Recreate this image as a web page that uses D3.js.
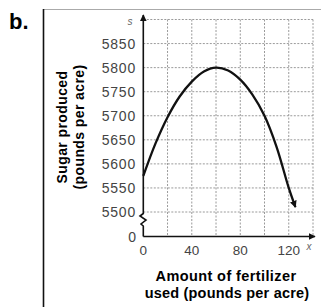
<!DOCTYPE html>
<html>
<head>
<meta charset="utf-8">
<script src="https://cdn.jsdelivr.net/npm/d3@7"></script>
<style>
  body { margin: 0; background: #fff; }
  svg { display: block; }
  text { font-family: "Liberation Sans", Arial, sans-serif; }
</style>
</head>
<body>
<div id="chart"></div>
<script>
// Data
var fertilizer = [0, 10, 20, 30, 40, 50, 60, 70, 80, 90, 100, 110, 120, 125.5];
var sugar = [5575, 5642, 5697, 5740, 5771, 5792, 5800, 5794, 5775, 5744, 5700, 5635, 5550, 5510];
var xTicks = [0, 40, 80, 120];
var yTicks = [5500, 5550, 5600, 5650, 5700, 5750, 5800, 5850];
var xGrid = [20, 40, 60, 80, 100, 120, 140];
var yGrid = [5500, 5550, 5600, 5650, 5700, 5750, 5800, 5850, 5900];

var width = 321, height = 307;
var x0 = 143.3, xAxisY = 236.5;

var x = d3.scaleLinear().domain([0, 140]).range([x0, 313]);
var y = d3.scaleLinear().domain([5500, 5900]).range([212, 19.5]);

var svg = d3.select("#chart")
  .append("svg")
  .attr("width", width)
  .attr("height", height);

// Frame
svg.append("line")
  .attr("x1", 43).attr("x2", 321).attr("y1", 9.5).attr("y2", 9.5)
  .attr("stroke", "#aaa").attr("stroke-width", 1);
svg.append("line")
  .attr("x1", 43.5).attr("x2", 43.5).attr("y1", 9).attr("y2", 307)
  .attr("stroke", "#111").attr("stroke-width", 1.6);

// Panel letter
svg.append("text")
  .attr("x", 9).attr("y", 29)
  .style("font-size", "22px").style("font-weight", "bold")
  .text("b.");

// Grid
var grid = svg.append("g")
  .attr("stroke", "#9a9a9a")
  .attr("stroke-width", 1)
  .attr("stroke-dasharray", "2,1.5");

grid.selectAll(".h").data(yGrid).enter().append("line")
  .attr("x1", x0).attr("x2", x(140))
  .attr("y1", function(d) { return y(d); })
  .attr("y2", function(d) { return y(d); });

grid.selectAll(".v").data(xGrid).enter().append("line")
  .attr("x1", function(d) { return x(d); })
  .attr("x2", function(d) { return x(d); })
  .attr("y1", y(5900)).attr("y2", xAxisY);

// Arrow marker
var defs = svg.append("defs");
defs.append("marker")
  .attr("id", "arr")
  .attr("viewBox", "0 0 10 10")
  .attr("refX", 9).attr("refY", 5)
  .attr("markerWidth", 7).attr("markerHeight", 7)
  .attr("markerUnits", "userSpaceOnUse")
  .attr("orient", "auto")
  .append("path")
  .attr("d", "M0,0 L10,5 L0,10 Z")
  .attr("fill", "#111");

// Axes (y axis with break)
svg.append("path")
  .attr("d", "M" + x0 + "," + xAxisY + " L" + x0 + ",226 L141,224 L146,220 L140,216 L" + x0 + ",213.5 L" + x0 + ",15")
  .attr("fill", "none").attr("stroke", "#111").attr("stroke-width", 1.6)
  .attr("marker-end", "url(#arr)");

svg.append("line")
  .attr("x1", x0).attr("x2", 315)
  .attr("y1", xAxisY).attr("y2", xAxisY)
  .attr("stroke", "#111").attr("stroke-width", 1.6)
  .attr("marker-end", "url(#arr)");

// Tick labels
svg.selectAll(".yt").data(yTicks).enter().append("text")
  .attr("x", 136).attr("y", function(d) { return y(d) + 5; })
  .attr("text-anchor", "end")
  .style("font-size", "14px").style("letter-spacing", "0.8px").style("fill", "#444")
  .text(function(d) { return d; });

svg.append("text")
  .attr("x", 136).attr("y", xAxisY + 5)
  .attr("text-anchor", "end")
  .style("font-size", "14px").style("fill", "#444")
  .text("0");

svg.selectAll(".xt").data(xTicks).enter().append("text")
  .attr("x", function(d) { return x(d); })
  .attr("y", 255)
  .attr("text-anchor", "middle")
  .style("font-size", "13.5px").style("fill", "#444")
  .text(function(d) { return d; });

// Axis variable letters
svg.append("text")
  .attr("x", 130).attr("y", 25)
  .attr("text-anchor", "middle")
  .style("font-size", "10px").style("font-style", "italic").style("fill", "#666")
  .text("s");
svg.append("text")
  .attr("x", 309).attr("y", 250)
  .attr("text-anchor", "middle")
  .style("font-size", "10px").style("font-style", "italic").style("fill", "#666")
  .text("x");

// Axis titles
var yTitle = svg.append("text")
  .attr("transform", "translate(67,127) rotate(-90)")
  .attr("text-anchor", "middle")
  .style("font-size", "14px").style("font-weight", "bold").style("letter-spacing", "0.4px");
yTitle.append("tspan").attr("x", 0).attr("dy", 0).text("Sugar produced");
yTitle.append("tspan").attr("x", 0).attr("dy", 17).text("(pounds per acre)");

svg.append("text")
  .attr("x", 226).attr("y", 281)
  .attr("text-anchor", "middle")
  .style("font-size", "14.5px").style("font-weight", "bold").style("letter-spacing", "0.4px")
  .text("Amount of fertilizer");
svg.append("text")
  .attr("x", 227).attr("y", 298)
  .attr("text-anchor", "middle")
  .style("font-size", "14.5px").style("font-weight", "bold").style("letter-spacing", "0.2px")
  .text("used (pounds per acre)");

// Curve
var pts = fertilizer.map(function(d, i) { return [d, sugar[i]]; });
var line = d3.line()
  .x(function(d) { return x(d[0]); })
  .y(function(d) { return y(d[1]); })
  .curve(d3.curveCatmullRom.alpha(0.5));

svg.append("path")
  .datum(pts)
  .attr("d", line)
  .attr("fill", "none")
  .attr("stroke", "#111")
  .attr("stroke-width", 2.3)
  .attr("marker-end", "url(#arr)");
</script>
</body>
</html>
